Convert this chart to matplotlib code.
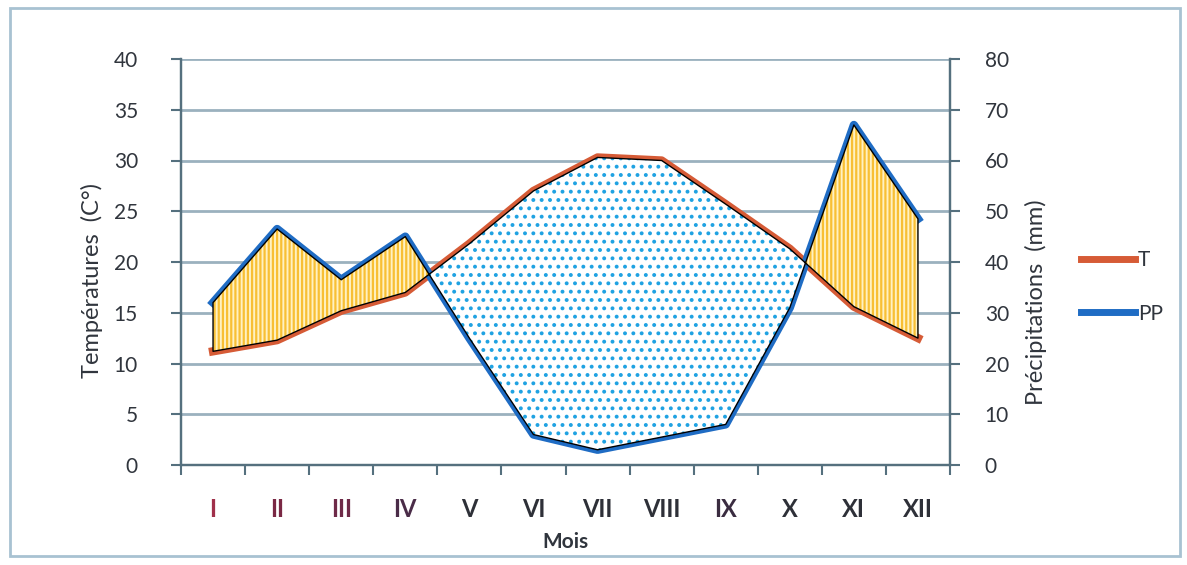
import numpy as np
import matplotlib
matplotlib.use('Agg')
import matplotlib.pyplot as plt
from matplotlib.lines import Line2D
from matplotlib.patches import Rectangle

plt.rcParams['font.family'] = ['Lato', 'DejaVu Sans']
plt.rcParams['hatch.linewidth'] = 1.6

# monthly climate data
months = ['I', 'II', 'III', 'IV', 'V', 'VI', 'VII', 'VIII', 'IX', 'X', 'XI', 'XII']
temp = [11.2, 12.3, 15.2, 17.0, 21.8, 27.0, 30.3, 30.0, 25.7, 21.3, 15.6, 12.5]   # T (C°)
precip = [32, 46.5, 36.5, 45, 25, 6, 3, 5.5, 8, 31, 67, 48.5]                     # PP (mm)
month_colors = ['#a0304a', '#7a2844', '#6e2a48', '#4a2c48', '#2e3038', '#2e3038',
                '#2e3038', '#2e3038', '#3a2c40', '#2e3038', '#2e3038', '#2e3038']

x = np.arange(len(months))
t = np.array(temp)
pp_half = np.array(precip) / 2.0   # P = 2T scale

grid_c = '#9bb1be'
axis_c = '#55707e'
text_c = '#30353d'
red = '#d65b36'
blue = '#1f6cc4'

fig = plt.figure(figsize=(11.87, 5.65), dpi=100)
fig.patches.append(Rectangle((10 / 1187, 1 - 556 / 565), 1170 / 1187, 548 / 565,
                             transform=fig.transFigure, fill=False,
                             edgecolor='#a8c2d2', linewidth=2))

ax = fig.add_axes([181 / 1187, 1 - 465 / 565, 769 / 1187, 406 / 565])
ax2 = ax.twinx()

ax.set_xlim(-0.5, 11.5)
ax.set_ylim(0, 40)
ax2.set_ylim(0, 80)
ax.set_yticks(np.arange(0, 41, 5))
ax2.set_yticks(np.arange(0, 81, 10))

for yv in np.arange(5, 41, 5):
    ax.axhline(yv, color=grid_c, lw=2, zorder=1)

# thick colour lines underneath the fills
ax.plot(x, t, color=red, lw=6, solid_joinstyle='round', zorder=2)
ax.plot(x, pp_half, color=blue, lw=6, solid_joinstyle='round', zorder=2)

# humid months: yellow stripes, dry months: blue dots
ax.fill_between(x, t, pp_half, where=pp_half >= t, interpolate=True,
                facecolor='#fff1c2', edgecolor='#f8bf34', hatch='||||', lw=0, zorder=3)
ax.fill_between(x, t, pp_half, where=pp_half < t, interpolate=True,
                facecolor='white', edgecolor='#1fa2e2', hatch='..', lw=0, zorder=3)
ax.fill_between(x, t, pp_half, facecolor='none', edgecolor='black', lw=1.0, zorder=4)

ax.set_xticks(x)
ax.set_xticklabels(months, fontsize=17, fontweight='bold')
for lab, c in zip(ax.get_xticklabels(), month_colors):
    lab.set_color(c)
ax.set_xticks(np.arange(-0.5, 12, 1), minor=True)
ax.tick_params(axis='x', which='major', length=0, pad=24)
ax.tick_params(axis='x', which='minor', length=7, width=1.5, color=axis_c, direction='out')
ax.tick_params(axis='y', length=7, width=1.5, color=axis_c, labelsize=15,
               labelcolor=text_c, pad=24)
ax2.tick_params(axis='y', length=7, width=1.5, color=axis_c, labelsize=15,
                labelcolor=text_c, pad=18)

for a in (ax, ax2):
    a.spines['top'].set_visible(False)
    for s in ('left', 'right', 'bottom'):
        a.spines[s].set_color(axis_c)
        a.spines[s].set_linewidth(1.6)

ax.set_xlabel('Mois', fontsize=15, fontweight='bold', color=text_c, labelpad=8)
ax.set_ylabel('Températures  (C°)', fontsize=17, color=text_c)
ax2.set_ylabel('Précipitations  (mm)', fontsize=17, color=text_c)
ax.yaxis.set_label_coords(-0.102, 0.455)
ax2.yaxis.set_label_coords(1.097, 0.40)

handles = [Line2D([], [], color=red, lw=5), Line2D([], [], color=blue, lw=5)]
fig.legend(handles, ['T', 'PP'], loc='center left',
           bbox_to_anchor=(1062 / 1187, 1 - 287 / 565), frameon=False,
           fontsize=15, handlelength=2.6, handletextpad=0.15, labelspacing=1.6,
           labelcolor=text_c)

fig.savefig('out.png', dpi=100)
